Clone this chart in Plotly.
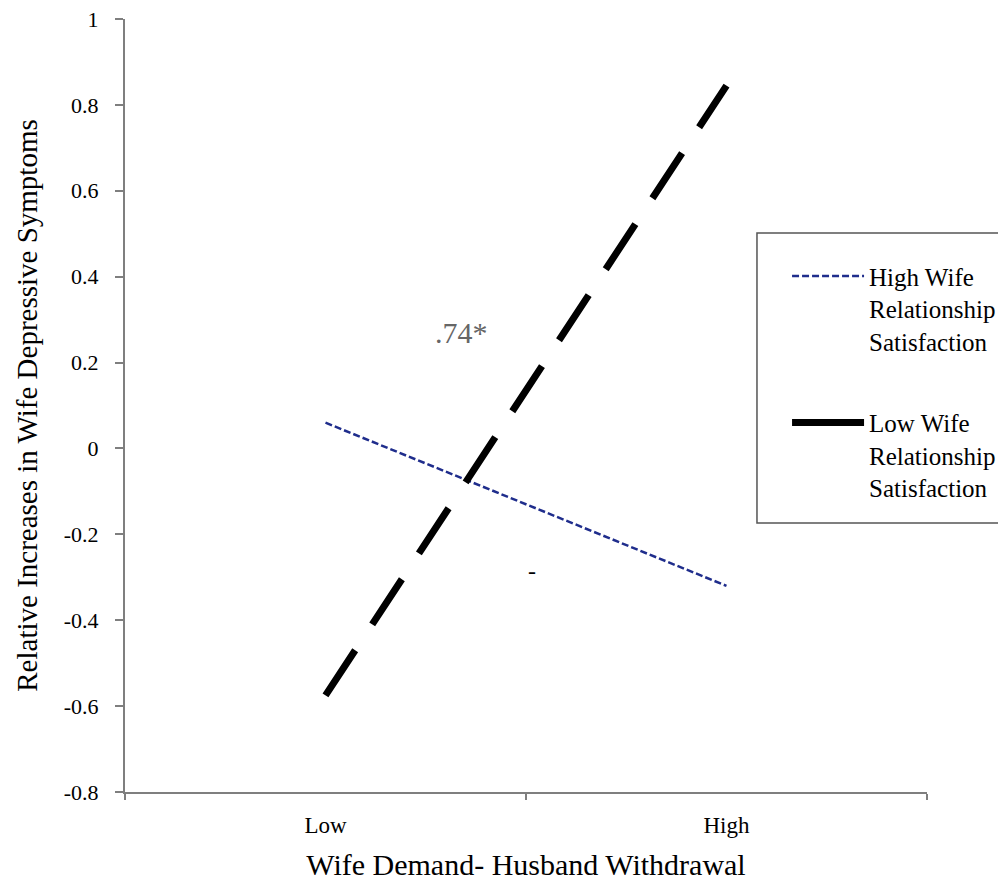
import plotly.graph_objects as go

categories = ["Low", "High"]
high_sat = [0.06, -0.32]
low_sat = [-0.575, 0.845]
y_ticks = [-0.8, -0.6, -0.4, -0.2, 0, 0.2, 0.4, 0.6, 0.8, 1]
y_tick_labels = ["-0.8", "-0.6", "-0.4", "-0.2", "0", "0.2", "0.4", "0.6", "0.8", "1"]

SERIF = "Liberation Serif"
BLUE = "#1f2d8c"

fig = go.Figure()
fig.add_trace(go.Scatter(x=categories, y=high_sat, mode="lines",
                         line=dict(color=BLUE, width=2.5, dash="7px,3px"),
                         showlegend=False))
fig.add_trace(go.Scatter(x=categories, y=low_sat, mode="lines",
                         line=dict(color="black", width=7, dash="54px,31px"),
                         showlegend=False))
# legend entries
fig.add_trace(go.Scatter(x=[None], y=[None], mode="lines",
                         name="High Wife<br>Relationship<br>Satisfaction",
                         legendgroup="a",
                         line=dict(color=BLUE, width=2.5, dash="7px,3px")))
fig.add_trace(go.Scatter(x=[None], y=[None], mode="lines",
                         name="Low Wife<br>Relationship<br>Satisfaction",
                         legendgroup="b",
                         line=dict(color="black", width=7)))

fig.add_annotation(x=0.34, y=0.27, xref="x", yref="y", text=".74*", showarrow=False,
                   font=dict(family=SERIF, size=30, color="#666666"))
fig.add_annotation(x=0.515, y=-0.285, xref="x", yref="y", text="-", showarrow=False,
                   font=dict(family=SERIF, size=24, color="black"))

# legend frame
fig.add_shape(type="rect", xref="paper", yref="paper",
              x0=0.788, x1=1.3, y0=0.348, y1=0.723,
              line=dict(color="#555555", width=1.5), fillcolor="white", layer="below")

fig.update_layout(
    width=998, height=881,
    margin=dict(l=125, r=71, t=19, b=89, autoexpand=False),
    paper_bgcolor="white", plot_bgcolor="rgba(0,0,0,0)",
    font=dict(family=SERIF, size=22, color="black"),
    legend=dict(x=0.8255, y=0.697, xanchor="left", yanchor="top",
                borderwidth=0, bgcolor="rgba(0,0,0,0)",
                font=dict(family=SERIF, size=25),
                traceorder="grouped", tracegroupgap=46,
                itemwidth=72, valign="top"),
)
fig.update_xaxes(type="category", range=[-0.5, 1.5], tickson="boundaries",
                 automargin=False,
                 ticks="outside", ticklen=6, tickcolor="#7f7f7f", tickwidth=1.5,
                 showline=True, linecolor="#7f7f7f", linewidth=2,
                 showgrid=False, zeroline=False,
                 ticklabelstandoff=11,
                 tickfont=dict(family=SERIF, size=23),
                 title=dict(text="Wife Demand- Husband Withdrawal",
                            font=dict(family=SERIF, size=30), standoff=22))
fig.update_yaxes(range=[-0.8, 1], tickvals=y_ticks, ticktext=y_tick_labels,
                 automargin=False,
                 ticks="outside", ticklen=8, tickcolor="#7f7f7f", tickwidth=1.5,
                 showline=True, linecolor="#7f7f7f", linewidth=2,
                 showgrid=False, zeroline=False,
                 ticklabelstandoff=12,
                 tickfont=dict(family=SERIF, size=22),
                 title=dict(text="Relative Increases in Wife Depressive Symptoms",
                            font=dict(family=SERIF, size=29), standoff=18))

fig.write_html("out.html")
